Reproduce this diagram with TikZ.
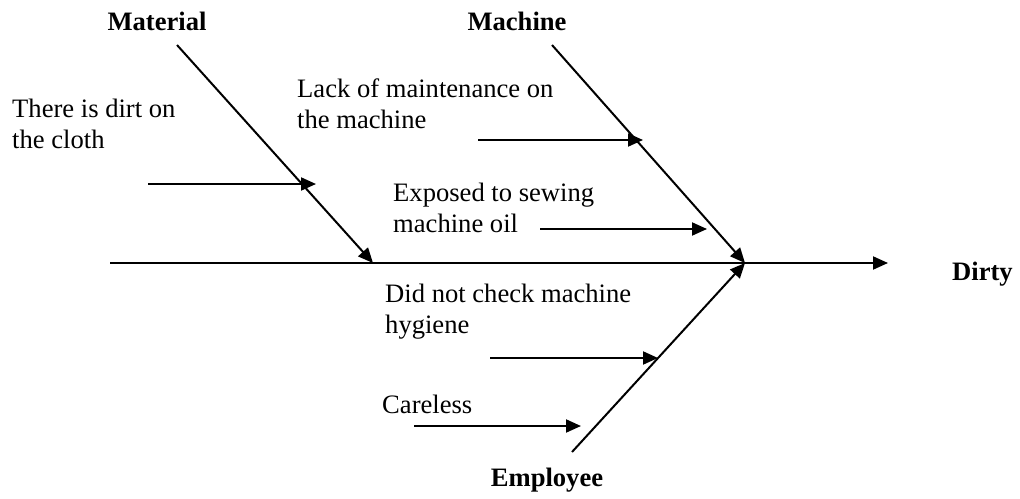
\documentclass[tikz,border=0pt]{standalone}
\usepackage{fontspec}
\setmainfont{Liberation Serif}
\usetikzlibrary{arrows.meta}
\begin{document}
\begin{tikzpicture}[x=1pt,y=-1pt,
  bone/.style={line width=2pt},
  arr/.style={line width=2pt,-{Triangle[length=15pt,width=13pt]}},
  cause/.style={inner sep=0pt,anchor=base west,align=left,font=\fontsize{26.6}{31}\selectfont},
  head/.style={inner sep=0pt,anchor=base,font=\fontsize{26.6}{31}\selectfont\bfseries}]
\useasboundingbox (0,0) rectangle (1020,498);

% spine and effect
\coordinate (tail) at (110,263);
\coordinate (join) at (745,263);
\coordinate (tip) at (888,263);
\draw[bone] (tail) -- (join);
\draw[arr] (join) -- (tip);
\node[head,anchor=base west] (effect) at (952,280) {Dirty};

% category labels
\node[head] (material) at (157,30) {Material};
\node[head] (machine) at (517,30) {Machine};
\node[head] (employee) at (547,486) {Employee};

% bones
\coordinate (matTop) at (177,45);
\coordinate (matEnd) at (373,263);
\draw[arr] (matTop) -- (matEnd);
\coordinate (macTop) at (552,45);
\draw[arr] (macTop) -- (join);
\coordinate (empBot) at (572,452);
\draw[arr] (empBot) -- (join);

% causes (base anchor sits on the last line of each label)
\node[cause] (c1) at (12,148) {There is dirt on\\the cloth};
\coordinate (c1s) at (148,184); \coordinate (c1e) at (316,184);
\draw[arr] (c1s) -- (c1e);

\node[cause] (c2) at (297,128) {Lack of maintenance on\\the machine};
\coordinate (c2s) at (478,140); \coordinate (c2e) at (643,140);
\draw[arr] (c2s) -- (c2e);

\node[cause] (c3) at (393,232) {Exposed to sewing\\machine oil};
\coordinate (c3s) at (540,229); \coordinate (c3e) at (707,229);
\draw[arr] (c3s) -- (c3e);

\node[cause] (c4) at (385,333) {Did not check machine\\hygiene};
\coordinate (c4s) at (490,358); \coordinate (c4e) at (658,358);
\draw[arr] (c4s) -- (c4e);

\node[cause] (c5) at (382,413) {Careless};
\coordinate (c5s) at (414,426); \coordinate (c5e) at (581,426);
\draw[arr] (c5s) -- (c5e);
\end{tikzpicture}
\end{document}
